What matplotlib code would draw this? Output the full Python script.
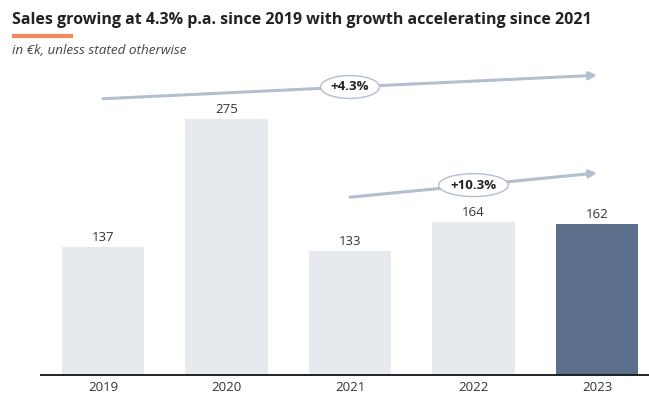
import matplotlib
matplotlib.use("Agg")
import matplotlib.pyplot as plt

plt.rcParams['font.family'] = ['Open Sans', 'DejaVu Sans']

# sales in EUR k
years = ["2019", "2020", "2021", "2022", "2023"]
sales = [137, 275, 133, 164, 162]

# growth arrow labels
cagr_label_all = "+4.3%"
cagr_label_recent = "+10.3%"

bar_light = "#e6e9ee"
bar_dark = "#5b6e8a"
arrow_col = "#b3bece"
text_col = "#333333"

fig = plt.figure(figsize=(6.49, 3.94), dpi=100)
ax = fig.add_axes([41 / 649, 19 / 394, 608 / 649, 315 / 394])

x = list(range(len(years)))
colors = [bar_light] * (len(years) - 1) + [bar_dark]
bars = ax.bar(x, sales, width=0.665, color=colors, zorder=2)

for xi, v in zip(x, sales):
    ax.annotate(str(v), (xi, v), xytext=(0, 2.5), textcoords="offset points",
                ha="center", va="bottom", fontsize=9.5, color=text_col)

ax.set_xlim(-0.502, 4.421)
ax.set_ylim(0, 338.4)
ax.set_xticks(x)
ax.set_xticklabels(years, fontsize=9.5, color=text_col)
ax.tick_params(axis="x", length=0, pad=4)
ax.set_yticks([])
for s in ["top", "right", "left"]:
    ax.spines[s].set_visible(False)
ax.spines["bottom"].set_linewidth(1.3)
ax.spines["bottom"].set_color("#111111")


def growth_arrow(x0, y0, x1, y1, label):
    ax.annotate("", xy=(x1, y1), xytext=(x0, y0),
                arrowprops=dict(arrowstyle="-|>", color=arrow_col, lw=2.2,
                                mutation_scale=11, shrinkA=0, shrinkB=0),
                zorder=3)
    ax.text((x0 + x1) / 2, (y0 + y1) / 2, label, ha="center", va="center",
            fontsize=9.5, fontweight="bold", color="#222222", zorder=4,
            bbox=dict(boxstyle="ellipse,pad=0.12", fc="white", ec=arrow_col, lw=1))


growth_arrow(0, 296.8, 4, 322, cagr_label_all)
growth_arrow(2, 191, 4, 217, cagr_label_recent)

fig.text(12 / 649, 1 - 20 / 394, "Sales growing at 4.3% p.a. since 2019 with growth accelerating since 2021",
         fontsize=11.5, fontweight="bold", color="#222222", va="center", ha="left")
fig.add_artist(plt.Line2D([12 / 649, 73 / 649], [1 - 36 / 394, 1 - 36 / 394],
                          color="#f4875f", lw=3, solid_capstyle="butt"))
fig.text(12 / 649, 1 - 51 / 394, "in €k, unless stated otherwise",
         fontsize=9.7, fontstyle="italic", color="#444444", va="center", ha="left")

fig.savefig("out.png", dpi=100)
